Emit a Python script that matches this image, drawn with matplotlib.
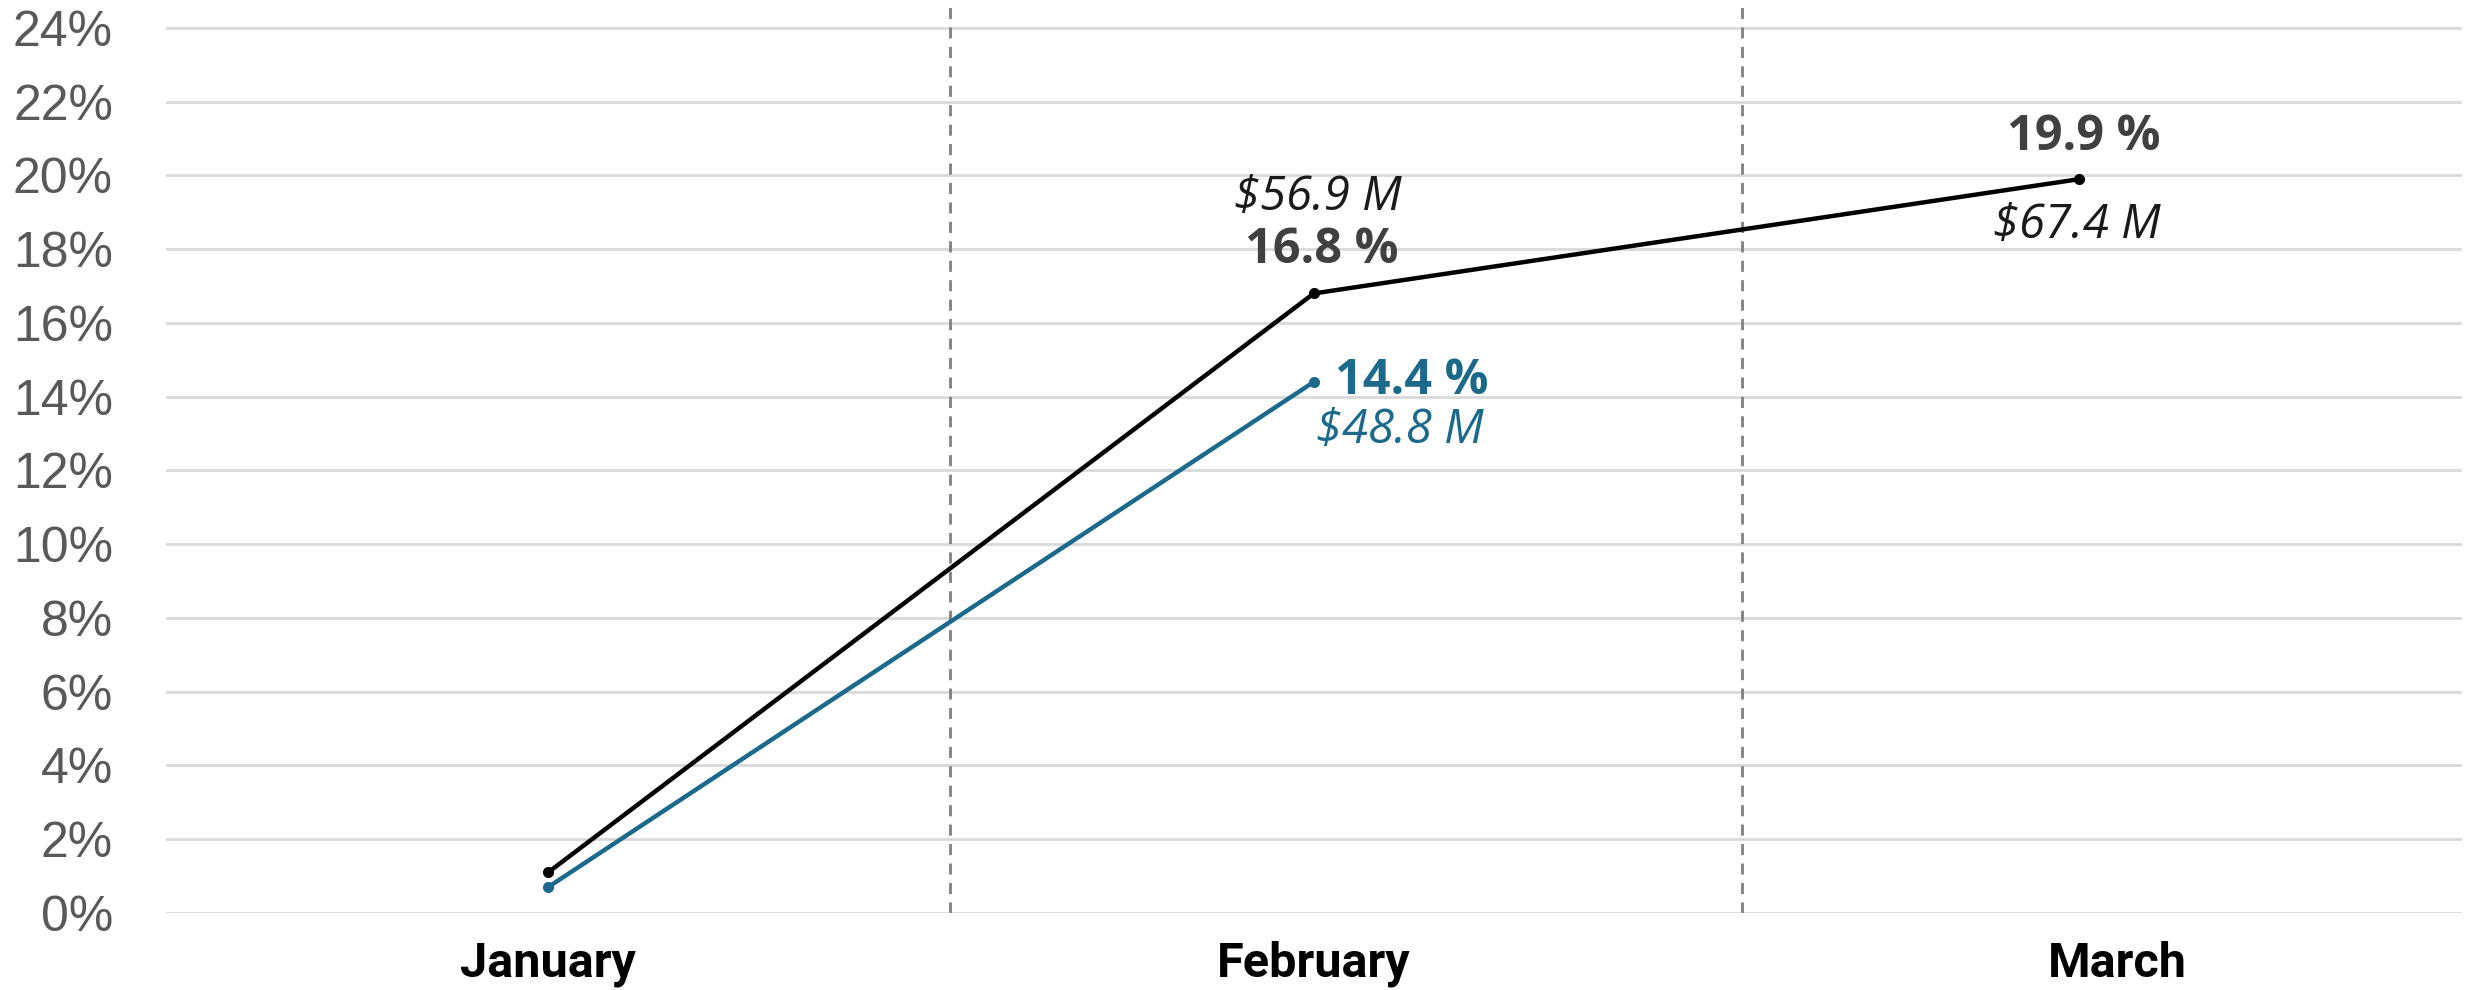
import matplotlib.pyplot as plt
import matplotlib.transforms as mtransforms

months = ["January", "February", "March"]
total_pct = [1.1, 16.8, 19.9]
sub_pct = [0.7, 14.4]
total_amt = [None, "$56.9 M", "$67.4 M"]
sub_amt = [None, "$48.8 M"]
yticks = list(range(0, 25, 2))

black = "#000000"
blue = "#1b6a8c"
dark = "#404040"

fig = plt.figure(figsize=(24.73, 9.9), dpi=100)
ax = fig.add_axes([0.067, 0.078, 0.9285, 0.922])

x = list(range(len(months)))
ax.plot(x, total_pct, color=black, lw=3.2, marker="o", ms=7, zorder=3)
ax.plot(x[:len(sub_pct)], sub_pct, color=blue, lw=3.2, marker="o", ms=7, zorder=3)

ax.set_xlim(-0.5, 2.5)
ax.set_ylim(0, 24.76)
ax.set_yticks(yticks)
ax.set_yticklabels([f"{v}%" for v in yticks], fontsize=36, color="#595959",
                   family="Liberation Sans")
ax.set_xticks(x)
ax.set_xticklabels(months, fontsize=35, fontweight="bold",
                   family=["Liberation Sans Narrow", "Roboto"])
ax.tick_params(axis="both", length=0)
ax.tick_params(axis="x", pad=20)
ax.tick_params(axis="y", pad=38)
ax.grid(axis="y", color="#d9d9d9", lw=2)
ax.set_axisbelow(True)
for s in ax.spines.values():
    s.set_visible(False)
for b in [0.525, 1.56]:
    ax.axvline(b, color="#808080", ls=(0, (4, 3)), lw=2, zorder=1)

# March label sits a bit right of its point in the original
lbl = ax.get_xticklabels()[2]
lbl.set_transform(lbl.get_transform() + mtransforms.ScaledTranslation(0.38, 0, fig.dpi_scale_trans))

fam = "Open Sans"
# total series labels
ax.annotate("16.8 %", (1, total_pct[1]), xytext=(6, 31), textcoords="offset points",
            ha="center", va="center", fontsize=35, fontweight="bold", color=dark, family=fam)
ax.annotate(total_amt[1].replace("$", r"\$"), (1, total_pct[1]), xytext=(3, 69),
            textcoords="offset points", ha="center", va="center", fontsize=34,
            style="italic", color="#1a1a1a", family=fam)
ax.annotate("19.9 %", (2, total_pct[2]), xytext=(3, 30), textcoords="offset points",
            ha="center", va="center", fontsize=35, fontweight="bold", color=dark, family=fam)
ax.annotate(total_amt[2].replace("$", r"\$"), (2, total_pct[2]), xytext=(-2, -33),
            textcoords="offset points", ha="center", va="center", fontsize=34,
            style="italic", color="#1a1a1a", family=fam)
# sub series labels
ax.annotate("14.4 %", (1, sub_pct[1]), xytext=(15, 0), textcoords="offset points",
            ha="left", va="center", fontsize=35, fontweight="bold", color=blue, family=fam)
ax.annotate(sub_amt[1].replace("$", r"\$"), (1, sub_pct[1]), xytext=(62, -35),
            textcoords="offset points", ha="center", va="center", fontsize=34,
            style="italic", color=blue, family=fam)

fig.savefig("out.png", dpi=100)
